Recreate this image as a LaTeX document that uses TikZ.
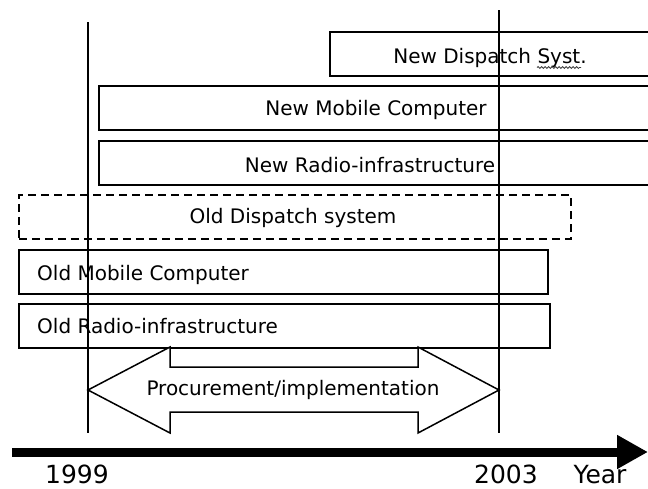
\documentclass[tikz,border=0pt]{standalone}
\usepackage{fontspec}
\setmainfont{DejaVu Sans}
\usetikzlibrary{arrows.meta,decorations.pathmorphing}
\begin{document}
\begin{tikzpicture}[x=1pt,y=-1pt,
  bar/.style={draw=black,line width=1.8pt,fill=white,inner sep=0pt,anchor=north west,minimum height=44pt},
  dashbar/.style={bar,dash pattern=on 8pt off 5pt},
  lbl/.style={inner sep=0pt,anchor=base,font=\fontsize{20}{24}\selectfont},
  yr/.style={inner sep=0pt,anchor=base,font=\fontsize{25}{30}\selectfont},
  vline/.style={line width=1.5pt},
  big/.style={draw=black,line width=1.5pt,fill=white,line join=miter}]
\clip (0,0) rectangle (648,488);
\useasboundingbox (0,0) rectangle (648,488);
% bars
\node[bar,minimum width=325pt] (nd) at (329,31) {};
\node[bar,minimum width=560pt] (nm) at (98,85) {};
\node[bar,minimum width=560pt] (nr) at (98,140) {};
\node[dashbar,minimum width=552pt] (od) at (18,194) {};
\node[bar,minimum width=529pt] (om) at (18,249) {};
\node[bar,minimum width=531pt] (or) at (18,303) {};
% labels
\node[lbl] (ndt) at (490,63) {New Dispatch Syst.};
\node[lbl] (nmt) at (376,115) {New Mobile Computer};
\node[lbl] (nrt) at (370,172) {New Radio-infrastructure};
\node[lbl] (odt) at (293,223) {Old Dispatch system};
\node[lbl,anchor=base west] (omt) at (37,280) {Old Mobile Computer};
\node[lbl,anchor=base west] (ort) at (37,333) {Old Radio-infrastructure};
% spell-check squiggle
\coordinate (sq1) at (537,67.5);
\coordinate (sq2) at (581,67.5);
\draw[gray!50!black,line width=0.8pt,decorate,decoration={snake,amplitude=1pt,segment length=3.5pt}] (sq1) -- (sq2);
% double arrow
\draw[big] (88,390) -- (170,347) -- (170,367) -- (418,367) -- (418,347) -- (499,390)
  -- (418,433) -- (418,412) -- (170,412) -- (170,433) -- cycle;
\node[lbl] (proc) at (293,395) {Procurement/implementation};
% axis
\coordinate (ax0) at (12,452);
\coordinate (ax1) at (648,452);
\draw[line width=9pt,-{Triangle[length=31pt,width=32pt]}] (ax0) -- (ax1);
\node[yr] (y1999) at (77,483) {1999};
\node[yr] (y2003) at (506,483) {2003};
\node[yr] (year) at (600,483) {Year};
% vertical year lines
\coordinate (v1t) at (88,22);
\coordinate (v1b) at (88,433);
\coordinate (v2t) at (499,10);
\coordinate (v2b) at (499,433);
\draw[vline] (v1t) -- (v1b);
\draw[vline] (v2t) -- (v2b);
\end{tikzpicture}
\end{document}
